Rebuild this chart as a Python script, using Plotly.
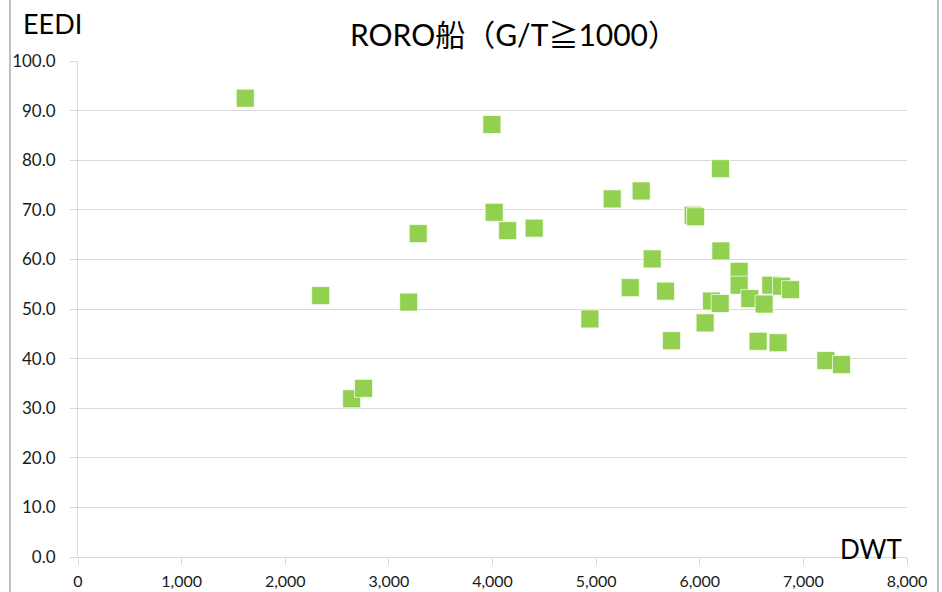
import plotly.graph_objects as go

dwt = [1614, 2342, 2641, 2756, 3191, 3283, 3994, 4016, 4146, 4402,
       4940, 5155, 5329, 5435, 5541, 5670, 5728, 5936, 5960, 6052,
       6114, 6197, 6200, 6204, 6380, 6380, 6483, 6621, 6686, 6789,
       6876, 6563, 6756, 7217, 7368]
eedi = [92.5, 52.7, 31.9, 34.0, 51.4, 65.2, 87.2, 69.5, 65.8, 66.3,
        48.0, 72.2, 54.3, 73.8, 60.1, 53.6, 43.6, 68.9, 68.6, 47.2,
        51.6, 51.1, 78.3, 61.7, 57.6, 54.8, 52.1, 51.0, 54.8, 54.6,
        53.9, 43.5, 43.2, 39.6, 38.8]

x_ticks = [0, 1000, 2000, 3000, 4000, 5000, 6000, 7000, 8000]
x_ticklabels = ["0", "1,000", "2,000", "3,000", "4,000", "5,000", "6,000", "7,000", "8,000"]
y_ticks = [0, 10, 20, 30, 40, 50, 60, 70, 80, 90, 100]
y_ticklabels = ["0.0", "10.0", "20.0", "30.0", "40.0", "50.0", "60.0", "70.0", "80.0", "90.0", "100.0"]

title_text = "RORO船（G/T≧1000）"
y_title = "EEDI"
x_title = "DWT"

FONT = "Lato, Noto Sans, Noto Sans CJK JP, sans-serif"
GRID = "#d9d9d9"

W, H = 942, 592
L, R, T, B = 78, 35, 61, 35
PW, PH = W - L - R, H - T - B


def px(x):
    return (x - L) / PW


def py(y):
    return (T + PH - y) / PH


fig = go.Figure()
fig.add_trace(go.Scatter(
    x=dwt, y=eedi, mode="markers",
    marker=dict(symbol="square", size=18, color="#92D050",
                line=dict(color="rgba(255,255,255,0.7)", width=1)),
    showlegend=False, hoverinfo="x+y",
))

fig.update_layout(
    width=W, height=H,
    margin=dict(l=L, r=R, t=T, b=B, autoexpand=False),
    paper_bgcolor="white", plot_bgcolor="white",
    font=dict(family=FONT, color="#000000"),
    xaxis=dict(range=[0, 8000], tickvals=x_ticks, ticktext=x_ticklabels,
               automargin=False,
               showgrid=False, zeroline=False, showline=True, linecolor=GRID,
               linewidth=1, ticks="outside", ticklen=7, tickcolor=GRID,
               tickfont=dict(size=16, family=FONT, color="#1a1a1a"), ticklabelstandoff=3),
    yaxis=dict(range=[0, 100], tickvals=y_ticks, ticktext=y_ticklabels,
               automargin=False,
               showgrid=True, gridcolor=GRID, gridwidth=1, zeroline=False,
               showline=True, linecolor=GRID, linewidth=1,
               ticks="outside", ticklen=7, tickcolor=GRID,
               tickfont=dict(size=17, family=FONT, color="#1a1a1a"), ticklabelstandoff=11),
    annotations=[
        dict(text=title_text, xref="paper", yref="paper",
             x=px(514), y=py(34), xanchor="center", yanchor="middle",
             showarrow=False, font=dict(size=30, family="Lato, Noto Sans CJK JP, sans-serif")),
        dict(text=y_title, xref="paper", yref="paper",
             x=px(21), y=py(24), xanchor="left", yanchor="middle",
             showarrow=False, font=dict(size=27, family=FONT)),
        dict(text=x_title, xref="paper", yref="paper",
             x=px(904), y=py(549), xanchor="right", yanchor="middle",
             showarrow=False, font=dict(size=26, family=FONT)),
    ],
    shapes=[
        dict(type="line", xref="paper", yref="paper",
             x0=px(10), x1=px(10), y0=-1, y1=2,
             line=dict(color="#808080", width=1)),
        dict(type="line", xref="paper", yref="paper",
             x0=px(938), x1=px(938), y0=-1, y1=2,
             line=dict(color="#808080", width=1)),
    ],
)

fig.write_html("out.html", config={"displayModeBar": False},
               post_script="document.body.style.margin='0';document.body.style.overflow='hidden';")
